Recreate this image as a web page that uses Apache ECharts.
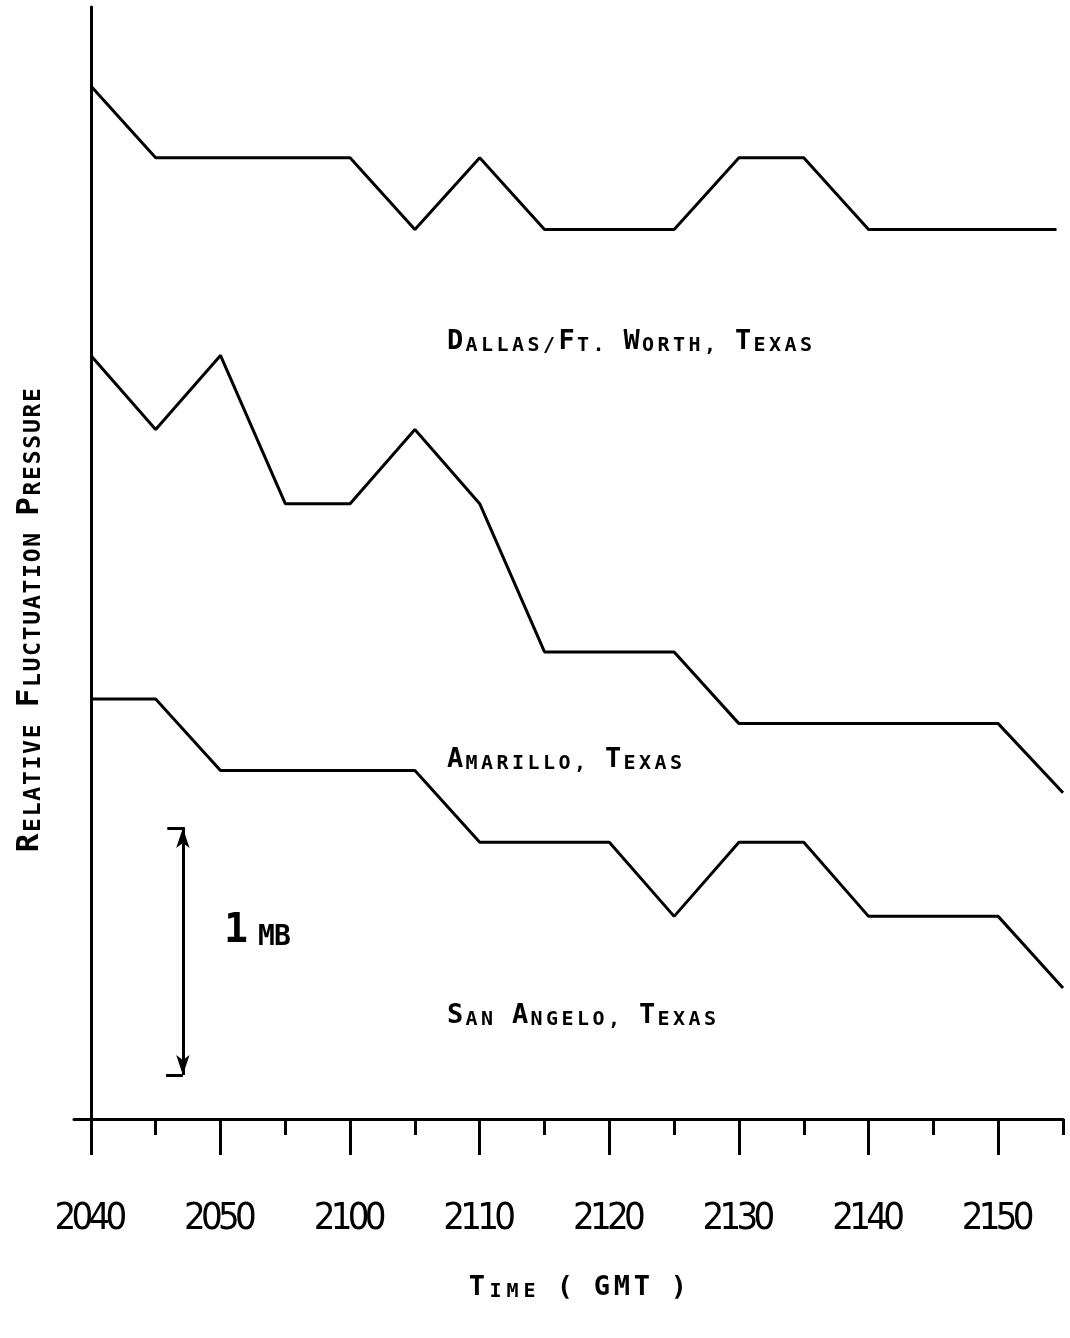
<!DOCTYPE html>
<html><head><meta charset="utf-8">
<script src="https://cdn.jsdelivr.net/npm/echarts@6/dist/echarts.min.js"></script>
<style>html,body{margin:0;padding:0;background:#fff}#c{width:1070px;height:1338px}</style>
</head><body><div id="c"></div>
<script>
// Time is minutes after 2040 GMT; pressure in mb (relative, arbitrary zero)
const tickMinutes = [0, 10, 20, 30, 40, 50, 60, 70];
const tickLabels = ['2040', '2050', '2100', '2110', '2120', '2130', '2140', '2150'];
const minorTickMinutes = [5, 15, 25, 35, 45, 55, 65, 75];

const dallasTime  = [0, 5, 20, 25, 30, 35, 45, 50, 55, 60, 74.5];
const dallasValue = [4.18, 3.89, 3.89, 3.60, 3.89, 3.60, 3.60, 3.89, 3.89, 3.60, 3.60];

const amarilloTime  = [0, 5, 10, 15, 20, 25, 30, 35, 45, 50, 70, 75];
const amarilloValue = [3.09, 2.79, 3.09, 2.49, 2.49, 2.79, 2.49, 1.89, 1.89, 1.60, 1.60, 1.32];

const sanAngeloTime  = [0, 5, 10, 25, 30, 40, 45, 50, 55, 60, 70, 75];
const sanAngeloValue = [1.70, 1.70, 1.41, 1.41, 1.12, 1.12, 0.82, 1.12, 1.12, 0.82, 0.82, 0.53];

// 1 mb scale bar
const scaleTime = 7.1;
const scaleTop = 1.178;
const scaleBottom = 0.178;
const scaleCapStart = 5.9;

const seriesNames = ['Dallas/Ft. Worth, Texas', 'Amarillo, Texas', 'San Angelo, Texas'];
const scaleLabel = '1 mb';
const xTitle = 'Time ( GMT )';
const yTitle = 'Relative Fluctuation Pressure';

const MONO = '"DejaVu Sans Mono", "Liberation Mono", monospace';
const NARROW = '"Liberation Sans Narrow", "DejaVu Sans Condensed", sans-serif';

function pairs(t, v) { return t.map((x, i) => [x, v[i]]); }

// Lettering-guide style small caps: each char its own token
function sc(text, big, small) {
  let out = '';
  for (const ch of text) {
    const isBig = (ch >= 'A' && ch <= 'Z') || (ch >= '0' && ch <= '9') || ch === '(' || ch === ')';
    out += '{' + (isBig ? big : small) + '|' + ch.toUpperCase() + '}';
  }
  return out;
}
function tok(fs, w) {
  return { fontFamily: MONO, fontSize: fs, fontWeight: 'bold', lineHeight: fs, width: w, verticalAlign: 'bottom', color: '#000' };
}
const labelRich = { B: tok(27, 18.5), S: tok(20, 15.5) };
const timeRich = { B: tok(27, 20), S: tok(20, 17) };
const yRich = { B: tok(31, 20), S: tok(23, 15.6) };
const mbRich = { B: tok(40, 18), S: tok(28, 16) };

const chart = echarts.init(document.getElementById('c'), null, { renderer: 'canvas' });

const lineStyle = { color: '#000', width: 3 };
function lineSeries(name, t, v) {
  return {
    name: name, type: 'line', data: pairs(t, v), xAxisIndex: 0, yAxisIndex: 0,
    showSymbol: false, symbol: 'none', lineStyle: lineStyle, silent: true, animation: false
  };
}

const option = {
  animation: false,
  backgroundColor: '#fff',
  grid: { left: 74, right: 7, top: 7, bottom: 219, containLabel: false },
  xAxis: [
    {
      type: 'value', min: -1.3, max: 75, position: 'bottom',
      axisLine: { show: true, onZero: false, lineStyle: { color: '#000', width: 3 } },
      axisTick: { show: true, customValues: tickMinutes, length: 36, lineStyle: { color: '#000', width: 3 } },
      axisLabel: {
        show: true, customValues: tickMinutes, margin: 81,
        formatter: function (v) {
          const i = tickMinutes.indexOf(v);
          const s = i >= 0 ? tickLabels[i] : '';
          return s.split('').map(c => '{d|' + c + '}').join('');
        },
        rich: { d: { fontFamily: NARROW, fontSize: 38, lineHeight: 38, width: 17, color: '#000' } }
      },
      splitLine: { show: false }
    },
    {
      type: 'value', min: -1.3, max: 75, position: 'bottom',
      axisLine: { show: false, onZero: false },
      axisTick: { show: true, customValues: minorTickMinutes, length: 16, lineStyle: { color: '#000', width: 3 } },
      axisLabel: { show: false },
      splitLine: { show: false }
    }
  ],
  yAxis: {
    type: 'value', min: 0, max: 4.5,
    axisLine: { show: true, onZero: true, onZeroAxisIndex: 0, lineStyle: { color: '#000', width: 3 } },
    axisTick: { show: false }, axisLabel: { show: false }, splitLine: { show: false }
  },
  series: [
    lineSeries(seriesNames[0], dallasTime, dallasValue),
    lineSeries(seriesNames[1], amarilloTime, amarilloValue),
    lineSeries(seriesNames[2], sanAngeloTime, sanAngeloValue),
    {
      name: 'scale', type: 'line', data: [], silent: true,
      markLine: {
        silent: true, symbol: ['arrow', 'arrow'], symbolSize: [10, 20],
        label: { show: false }, animation: false,
        lineStyle: { type: 'solid', color: '#000', width: 3 },
        data: [[{ coord: [scaleTime, scaleTop] }, { coord: [scaleTime, scaleBottom] }]]
      }
    },
    {
      name: 'scaleCaps', type: 'line', data: [], silent: true,
      markLine: {
        silent: true, symbol: ['none', 'none'],
        label: { show: false }, animation: false,
        lineStyle: { type: 'solid', color: '#000', width: 3 },
        data: [
          [{ coord: [scaleCapStart, scaleTop] }, { coord: [scaleTime + 0.15, scaleTop] }],
          [{ coord: [scaleCapStart - 0.1, scaleBottom] }, { coord: [scaleTime, scaleBottom] }]
        ]
      }
    }
  ],
  graphic: [
    { type: 'text', x: 447, y: 342, silent: true,
      style: { text: sc(seriesNames[0], 'B', 'S'), rich: labelRich, align: 'left', verticalAlign: 'middle' } },
    { type: 'text', x: 447, y: 760, silent: true,
      style: { text: sc(seriesNames[1], 'B', 'S'), rich: labelRich, align: 'left', verticalAlign: 'middle' } },
    { type: 'text', x: 447, y: 1016, silent: true,
      style: { text: sc(seriesNames[2], 'B', 'S'), rich: labelRich, align: 'left', verticalAlign: 'middle' } },
    { type: 'text', x: 224, y: 932, silent: true,
      style: { text: sc(scaleLabel, 'B', 'S'), rich: mbRich, align: 'left', verticalAlign: 'middle' } },
    { type: 'text', x: 578, y: 1288, silent: true,
      style: { text: sc(xTitle, 'B', 'S'), rich: timeRich, align: 'center', verticalAlign: 'middle' } },
    { type: 'text', x: 30, y: 620, rotation: Math.PI / 2, silent: true,
      style: { text: sc(yTitle, 'B', 'S'), rich: yRich, align: 'center', verticalAlign: 'middle' } }
  ]
};
chart.setOption(option);
</script>
</body></html>
